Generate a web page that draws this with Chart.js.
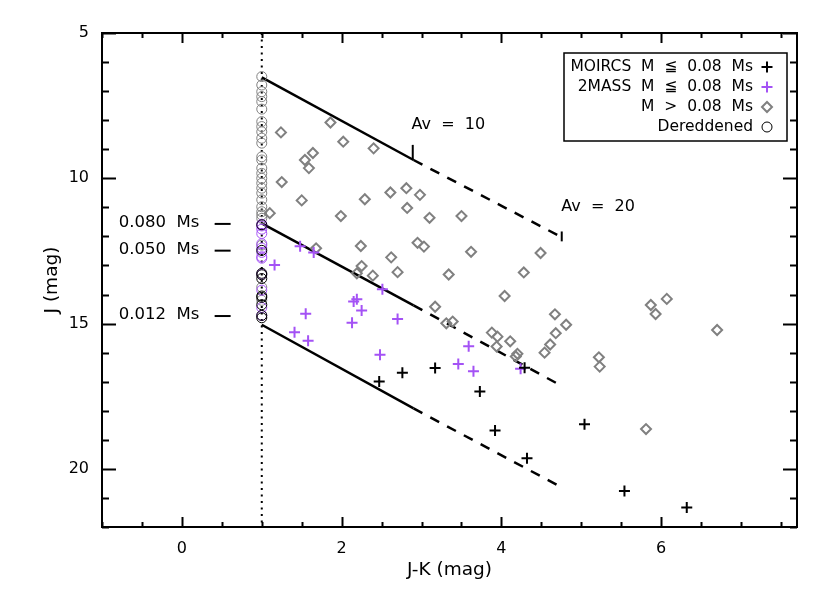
<!DOCTYPE html>
<html><head><meta charset="utf-8">
<script src="https://cdn.jsdelivr.net/npm/chart.js@4"></script>
<style>html,body{margin:0;padding:0;background:#fff}</style>
</head><body>
<canvas id="c" width="830" height="593"></canvas>
<script>
// ---- tick labels ----
const xTicks = [0, 2, 4, 6];
const yTicks = [5, 10, 15, 20];
const xMinorStep = 0.5, yMinorStep = 1;

// ---- MOIRCS M <= 0.08 Ms (black crosses) ----
const moircsX = [2.47, 2.76, 3.17, 4.29, 3.73, 3.92, 4.32, 5.04, 5.54, 6.32];
const moircsJ = [16.99, 16.69, 16.53, 16.52, 17.34, 18.68, 19.63, 18.46, 20.76, 21.33];

// ---- 2MASS M <= 0.08 Ms (purple crosses) ----
const twomassX = [1.48, 1.65, 1.16, 2.51, 2.19, 2.15, 2.25, 1.55, 2.13, 2.70, 1.41, 1.58, 2.48, 3.59, 3.46, 3.65, 4.24];
const twomassJ = [12.34, 12.55, 12.98, 13.82, 14.16, 14.24, 14.55, 14.66, 14.97, 14.84, 15.30, 15.59, 16.07, 15.78, 16.39, 16.64, 16.55];

// ---- M > 0.08 Ms (grey diamonds) ----
const highX = [1.86, 2.02, 1.24, 1.64, 1.54, 1.59, 1.25, 1.50, 1.99, 1.10, 2.40, 2.29, 2.61, 2.81, 2.98, 2.82, 3.10, 3.50,
  1.68, 2.24, 2.62, 2.25, 2.19, 2.39, 2.70, 2.95, 3.03, 3.62, 3.34, 4.49, 4.28, 4.04, 4.67, 3.17, 3.31, 3.39, 3.88, 3.95,
  3.94, 4.11, 4.20, 4.18, 4.54, 4.61, 4.68, 4.81, 5.87, 6.07, 5.93, 6.70, 5.22, 5.23, 5.81];
const highJ = [8.08, 8.74, 8.42, 9.13, 9.37, 9.65, 10.13, 10.76, 11.30, 11.20, 8.97, 10.72, 10.49, 10.34, 10.57, 11.02, 11.36, 11.30,
  12.41, 12.33, 12.72, 13.02, 13.27, 13.35, 13.23, 12.22, 12.35, 12.53, 13.31, 12.57, 13.24, 14.05, 14.68, 14.42, 14.99, 14.93, 15.31, 15.45,
  15.79, 15.61, 16.04, 16.13, 16.00, 15.72, 15.33, 15.04, 14.36, 14.15, 14.67, 15.22, 16.16, 16.48, 18.63];

// ---- Dereddened positions (circles at J-K = 1) ----
const deredX = 1.0;
const deredGrayJ = [6.50, 6.79, 7.02, 7.19, 7.36, 7.62, 8.05, 8.22, 8.40, 8.62, 8.79, 9.26, 9.37, 9.65, 9.83, 10.00,
  10.17, 10.34, 10.51, 10.74, 10.98, 11.15, 11.26, 11.38, 12.30, 13.75, 14.20];
const deredPurpleJ = [11.58, 11.64, 11.75, 11.90, 12.25, 12.40, 12.55, 12.70, 12.75, 13.30, 13.85, 14.45, 14.72];
const deredBlackJ = [11.60, 12.48, 13.27, 13.32, 13.45, 14.05, 14.10, 14.35, 14.72, 14.80];

// ---- reddening vectors (Av = 0, 10, 20) ----
const reddenX = [1.0, 2.9, 4.77];
const reddenJ = [[6.53, 9.37, 12.05], [11.55, 14.37, 17.17], [15.04, 17.92, 20.66]];
const avTickX = [2.89, 4.755];
const avTickJ = [[9.37, 8.85], [12.17, 11.83]];
const avLabels = ['Av  =  10', 'Av  =  20'];
const avLabelX = [2.875, 4.75];
const avLabelJ = [8.17, 10.98];

// ---- mass labels ----
const massLabels = ['0.080  Ms', '0.050  Ms', '0.012  Ms'];
const massJ = [11.57, 12.49, 14.74];
const massLabelX = -0.79;
const massDashX = [0.41, 0.61];

// ---- legend ----
const legendLabels = ['MOIRCS  M  \u2266  0.08  Ms', '2MASS  M  \u2266  0.08  Ms', 'M  >  0.08  Ms', 'Dereddened'];

const FONT = "'DejaVu Sans', sans-serif";
const PURPLE = '#a452f5';
const GREY = '#808080';

const pts = (xs, ys) => xs.map((v, i) => ({x: v, y: ys[i]}));
const datasets = [];
// dotted line at J-K = 1
datasets.push({data: [{x: deredX, y: 5}, {x: deredX, y: 22}], showLine: true, pointRadius: 0,
  borderColor: '#000', borderWidth: 2, borderDash: [2, 4.5], order: 20});
reddenJ.forEach(js => {
  datasets.push({data: [{x: reddenX[0], y: js[0]}, {x: reddenX[1], y: js[1]}], showLine: true, pointRadius: 0,
    borderColor: '#000', borderWidth: 2.5, order: 19});
  datasets.push({data: [{x: reddenX[1], y: js[1]}, {x: reddenX[2], y: js[2]}], showLine: true, pointRadius: 0,
    borderColor: '#000', borderWidth: 2.5, borderDash: [10, 9], order: 19});
});
avTickX.forEach((xv, i) => {
  datasets.push({data: [{x: xv, y: avTickJ[i][0]}, {x: xv, y: avTickJ[i][1]}], showLine: true, pointRadius: 0,
    borderColor: '#000', borderWidth: 2, order: 19});
});
datasets.push({data: pts(highX, highJ), pointStyle: 'rectRot', pointRadius: 5, borderColor: GREY, backgroundColor: 'rgba(0,0,0,0)', borderWidth: 2, order: 6});
datasets.push({data: pts(twomassX, twomassJ), pointStyle: 'cross', pointRadius: 5.5, borderColor: PURPLE, borderWidth: 2, order: 5});
datasets.push({data: pts(moircsX, moircsJ), pointStyle: 'cross', pointRadius: 5.5, borderColor: '#000', borderWidth: 2, order: 4});
datasets.push({data: deredGrayJ.map(j => ({x: deredX, y: j})), pointStyle: 'circle', pointRadius: 5, borderColor: GREY, backgroundColor: 'rgba(0,0,0,0)', borderWidth: 1, order: 3});
datasets.push({data: deredPurpleJ.map(j => ({x: deredX, y: j})), pointStyle: 'circle', pointRadius: 5, borderColor: PURPLE, backgroundColor: 'rgba(0,0,0,0)', borderWidth: 1, order: 2});
datasets.push({data: deredBlackJ.map(j => ({x: deredX, y: j})), pointStyle: 'circle', pointRadius: 5, borderColor: '#000', backgroundColor: 'rgba(0,0,0,0)', borderWidth: 1, order: 1});

const decor = {
  id: 'decor',
  afterDraw(chart) {
    const {ctx, chartArea: a, scales: {x, y}} = chart;
    ctx.save();
    ctx.strokeStyle = '#000';
    ctx.lineWidth = 2;
    ctx.strokeRect(a.left, a.top, a.right - a.left, a.bottom - a.top);
    // x ticks (bottom and top, inward)
    for (let v = x.min; v <= x.max + 1e-9; v += xMinorStep) {
      const px = Math.round(x.getPixelForValue(v)) + 0.5;
      const major = xTicks.includes(Math.round(v * 100) / 100);
      const len = major ? 10 : 5;
      ctx.beginPath();
      ctx.moveTo(px, a.bottom); ctx.lineTo(px, a.bottom - len);
      ctx.moveTo(px, a.top); ctx.lineTo(px, a.top + len);
      ctx.stroke();
    }
    for (let v = y.min; v <= y.max + 1e-9; v += yMinorStep) {
      const py = Math.round(y.getPixelForValue(v)) + 0.5;
      const major = yTicks.includes(v);
      const len = major ? 14 : 7;
      ctx.beginPath();
      ctx.moveTo(a.left, py); ctx.lineTo(a.left + len, py);
      ctx.moveTo(a.right, py); ctx.lineTo(a.right - len, py);
      ctx.stroke();
    }
    // mass labels and dashes
    ctx.fillStyle = '#000';
    ctx.font = '16.5px ' + FONT;
    ctx.textAlign = 'left';
    ctx.textBaseline = 'middle';
    massLabels.forEach((t, i) => {
      const py = y.getPixelForValue(massJ[i]);
      ctx.fillText(t, x.getPixelForValue(massLabelX), py - 1);
      ctx.beginPath();
      ctx.moveTo(x.getPixelForValue(massDashX[0]), py);
      ctx.lineTo(x.getPixelForValue(massDashX[1]), py);
      ctx.stroke();
    });
    // Av labels
    ctx.font = '16px ' + FONT;
    avLabels.forEach((t, i) => {
      ctx.fillText(t, x.getPixelForValue(avLabelX[i]), y.getPixelForValue(avLabelJ[i]));
    });
    // legend
    const lx0 = 564, ly0 = 53, lx1 = 787, ly1 = 141;
    ctx.fillStyle = '#fff';
    ctx.fillRect(lx0, ly0, lx1 - lx0, ly1 - ly0);
    ctx.lineWidth = 1.5;
    ctx.strokeRect(lx0, ly0, lx1 - lx0, ly1 - ly0);
    ctx.fillStyle = '#000';
    ctx.font = '15.5px ' + FONT;
    ctx.textAlign = 'right';
    const rows = [67, 87, 107, 127];
    const sx = 767;
    legendLabels.forEach((t, i) => {
      ctx.fillStyle = '#000';
      ctx.fillText(t, 753, rows[i]);
    });
    ctx.lineWidth = 2;
    // MOIRCS cross
    ctx.strokeStyle = '#000';
    ctx.beginPath(); ctx.moveTo(sx - 5.5, rows[0]); ctx.lineTo(sx + 5.5, rows[0]); ctx.moveTo(sx, rows[0] - 5.5); ctx.lineTo(sx, rows[0] + 5.5); ctx.stroke();
    ctx.strokeStyle = PURPLE;
    ctx.beginPath(); ctx.moveTo(sx - 5.5, rows[1]); ctx.lineTo(sx + 5.5, rows[1]); ctx.moveTo(sx, rows[1] - 5.5); ctx.lineTo(sx, rows[1] + 5.5); ctx.stroke();
    ctx.strokeStyle = GREY;
    ctx.beginPath(); ctx.moveTo(sx - 5, rows[2]); ctx.lineTo(sx, rows[2] - 5); ctx.lineTo(sx + 5, rows[2]); ctx.lineTo(sx, rows[2] + 5); ctx.closePath(); ctx.stroke();
    ctx.strokeStyle = '#000'; ctx.lineWidth = 1;
    ctx.beginPath(); ctx.arc(sx, rows[3], 5, 0, Math.PI * 2); ctx.stroke();
    ctx.restore();
  }
};

new Chart(document.getElementById('c'), {
  type: 'scatter',
  data: {datasets},
  options: {
    responsive: false,
    animation: false,
    devicePixelRatio: 1,
    layout: {padding: {top: 33, right: 33, left: 0, bottom: 0}},
    plugins: {legend: {display: false}, tooltip: {enabled: false}},
    scales: {
      x: {
        type: 'linear', min: -1, max: 7.7,
        grid: {display: false, drawTicks: false},
        border: {display: false},
        afterBuildTicks: s => { s.ticks = xTicks.map(v => ({value: v})); },
        afterFit: s => { s.height = 66; },
        ticks: {color: '#000', padding: 12, font: {family: FONT, size: 16}, callback: v => String(v)},
        title: {display: true, text: 'J-K (mag)', color: '#000', font: {family: FONT, size: 18.5}, padding: {top: 0, bottom: 12}}
      },
      y: {
        type: 'linear', min: 5, max: 22, reverse: true,
        grid: {display: false, drawTicks: false},
        border: {display: false},
        afterBuildTicks: s => { s.ticks = yTicks.map(v => ({value: v})); },
        afterFit: s => { s.width = 102; },
        ticks: {color: '#000', padding: 13, font: {family: FONT, size: 16}, callback: v => String(v)},
        title: {display: true, text: 'J (mag)', color: '#000', font: {family: FONT, size: 18.5}, padding: {top: 41, bottom: 0}}
      }
    }
  },
  plugins: [decor]
});
</script>
</body></html>
